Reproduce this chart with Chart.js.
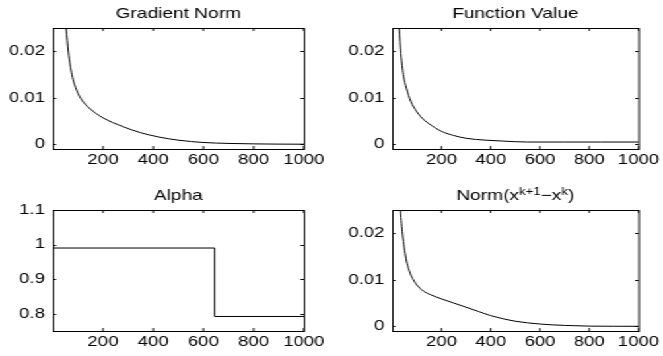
<!DOCTYPE html>
<html>
<head>
<meta charset="utf-8">
<script src="https://cdn.jsdelivr.net/npm/chart.js@4.4.1/dist/chart.umd.min.js"></script>
<style>
  html, body { margin: 0; padding: 0; background: #fff; }
  /* the figure is drawn narrow and stretched sideways, like the reference */
  #figure { position: absolute; left: 0; top: 0; width: 502px; height: 356px;
            transform: scaleX(1.3207); transform-origin: 0 0; }
  #figure canvas { position: absolute; }
</style>
</head>
<body>
<div id="figure">
  <canvas id="gradNorm" width="251" height="178" style="left:0;top:0"></canvas>
  <canvas id="funcValue" width="251" height="178" style="left:251px;top:0"></canvas>
  <canvas id="alpha" width="251" height="178" style="left:0;top:178px"></canvas>
  <canvas id="stepNorm" width="251" height="178" style="left:251px;top:178px"></canvas>
</div>
<script>
// values (iteration, value)
const gradIter = [48, 53, 62, 76, 96, 116, 145, 200, 280, 350, 420, 500, 600, 700, 800, 900, 1000];
const gradNorm = [0.028, 0.025, 0.0198, 0.015, 0.0115, 0.0095, 0.0078, 0.0057, 0.0038, 0.0025,
                  0.0016, 0.0009, 0.0004, 0.0002, 0.0001, 0.00005, 0.00003];

const funcIter = [22, 28, 35, 45, 58, 75, 100, 130, 150, 200, 250, 300, 380, 450, 550, 700, 850, 1000];
const funcValue = [0.030, 0.025, 0.0195, 0.015, 0.012, 0.0093, 0.007, 0.0052, 0.0044, 0.0028,
                   0.0019, 0.0013, 0.0009, 0.0007, 0.0005, 0.0005, 0.0005, 0.0005];

const alphaIter = [1, 645, 1000];
const alphaValue = [0.99, 0.792, 0.792];

const stepIter = [30, 33, 42, 56, 73, 86, 100, 126, 160, 200, 250, 300, 350, 400, 500, 600, 700, 800, 900, 1000];
const stepNorm = [0.028, 0.025, 0.0198, 0.0146, 0.0114, 0.010, 0.0089, 0.0076, 0.0067, 0.0059,
                  0.0050, 0.0041, 0.0032, 0.0023, 0.0011, 0.0005, 0.0002, 0.00005, 0.00002, 0.00001];

const xTicks = [200, 400, 600, 800, 1000];
const smallTicks = [0, 0.01, 0.02];
const alphaTicks = [0.8, 0.9, 1, 1.1];

const FONT = "'Liberation Sans', Arial, Helvetica, sans-serif";
Chart.defaults.font.family = FONT;
Chart.defaults.font.size = 14;
Chart.defaults.color = '#000';

// box round the axes with small inward ticks on all four sides
const boxPlugin = {
  id: 'matlabBox',
  afterDatasetsDraw(chart) {
    const {ctx, chartArea: a, scales} = chart;
    ctx.save();
    ctx.strokeStyle = '#000';
    ctx.lineWidth = 1;
    ctx.strokeRect(a.left + 0.5, a.top + 0.5, a.right - a.left, a.bottom - a.top);
    ctx.beginPath();
    scales.x.ticks.forEach(t => {
      const px = scales.x.getPixelForValue(t.value);
      ctx.moveTo(px, a.bottom); ctx.lineTo(px, a.bottom - 3);
      ctx.moveTo(px, a.top); ctx.lineTo(px, a.top + 3);
    });
    scales.y.ticks.forEach(t => {
      const py = Math.round(scales.y.getPixelForValue(t.value)) + 0.5;
      ctx.moveTo(a.left, py); ctx.lineTo(a.left + 2.5, py);
      ctx.moveTo(a.right, py); ctx.lineTo(a.right - 2.5, py);
    });
    ctx.stroke();
    ctx.restore();
  }
};

// title over the axes, with superscript pieces
const titlePlugin = {
  id: 'subTitle',
  afterDraw(chart, args, opts) {
    const parts = opts.parts || [];
    const {ctx, chartArea: a} = chart;
    ctx.save();
    ctx.fillStyle = '#000';
    ctx.textBaseline = 'alphabetic';
    const setFont = p => { ctx.font = (p.sup ? 10 : 14.5) + 'px ' + FONT; };
    let total = 0;
    parts.forEach(p => { setFont(p); total += ctx.measureText(p.text).width; });
    let x = (a.left + a.right) / 2 - total / 2;
    const base = a.top - 10;
    parts.forEach(p => {
      setFont(p);
      ctx.fillText(p.text, x, p.sup ? base - 5 : base);
      x += ctx.measureText(p.text).width;
    });
    ctx.restore();
  }
};

function makeChart(id, xs, ys, cfg) {
  const left = id === 'gradNorm' || id === 'alpha';
  const top = id === 'gradNorm' || id === 'funcValue';
  new Chart(document.getElementById(id), {
    type: 'line',
    data: {
      datasets: [{
        data: xs.map((x, i) => ({x: x, y: ys[i]})),
        borderColor: '#000',
        borderWidth: 1,
        pointRadius: 0,
        fill: false,
        clip: 0,
        stepped: cfg.stepped || false,
        cubicInterpolationMode: cfg.stepped ? 'default' : 'monotone'
      }]
    },
    options: {
      responsive: false,
      animation: false,
      devicePixelRatio: 1,
      layout: { padding: { top: top ? 28 : 32, right: left ? 21 : 16, bottom: 0, left: 0 } },
      plugins: {
        legend: { display: false },
        tooltip: { enabled: false },
        subTitle: { parts: cfg.title }
      },
      scales: {
        x: {
          type: 'linear',
          min: 0,
          max: 1000,
          afterBuildTicks: s => { s.ticks = xTicks.map(v => ({value: v})); },
          afterFit: s => { s.height = top ? 29 : 25; },
          grid: { display: false, drawTicks: false },
          border: { display: false },
          ticks: { padding: 3, maxRotation: 0, callback: v => String(v) }
        },
        y: {
          type: 'linear',
          min: cfg.yMin,
          max: cfg.yMax,
          afterBuildTicks: s => { s.ticks = cfg.yTicks.map(v => ({value: v})); },
          afterFit: s => { s.width = left ? 40 : 46; },
          grid: { display: false, drawTicks: false },
          border: { display: false },
          ticks: { padding: 6, callback: v => String(v) }
        }
      }
    },
    plugins: [boxPlugin, titlePlugin]
  });
}

makeChart('gradNorm', gradIter, gradNorm, {
  yMin: -0.001, yMax: 0.025, yTicks: smallTicks,
  title: [{text: 'Gradient Norm'}]
});
makeChart('funcValue', funcIter, funcValue, {
  yMin: -0.001, yMax: 0.025, yTicks: smallTicks,
  title: [{text: 'Function Value'}]
});
makeChart('alpha', alphaIter, alphaValue, {
  yMin: 0.75, yMax: 1.1, yTicks: alphaTicks, stepped: true,
  title: [{text: 'Alpha'}]
});
makeChart('stepNorm', stepIter, stepNorm, {
  yMin: -0.001, yMax: 0.025, yTicks: smallTicks,
  title: [{text: 'Norm(x'}, {text: 'k+1', sup: true}, {text: '\u2212x'}, {text: 'k', sup: true}, {text: ')'}]
});
</script>
</body>
</html>
